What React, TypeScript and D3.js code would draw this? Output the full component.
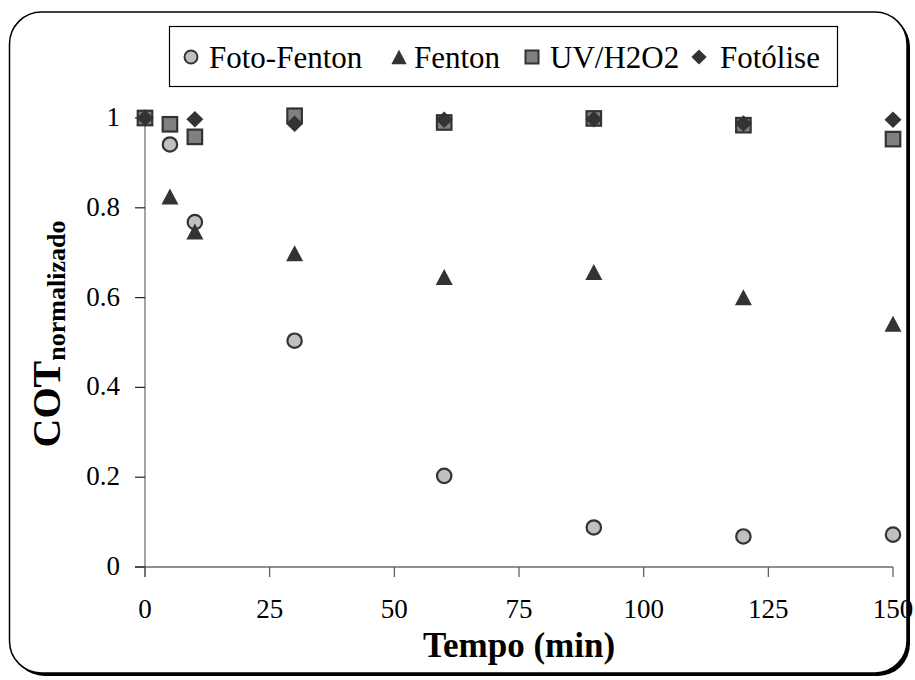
import React from "react";
import * as d3 from "d3";

const times = [0, 5, 10, 30, 60, 90, 120, 150];
const fotoFenton = [1, 0.941, 0.768, 0.504, 0.203, 0.088, 0.068, 0.072];
const fenton = [1, 0.825, 0.747, 0.699, 0.646, 0.657, 0.601, 0.542];
const uvH2O2 = [1, 0.986, 0.958, 1.005, 0.99, 0.999, 0.984, 0.953];
const fotoliseTimes = [0, 10, 30, 60, 90, 120, 150];
const fotolise = [1, 0.997, 0.987, 0.996, 0.997, 0.988, 0.996];

const xTicks = [0, 25, 50, 75, 100, 125, 150];
const yTicks = [0, 0.2, 0.4, 0.6, 0.8, 1];
const yTickLabels = ["0", "0.2", "0.4", "0.6", "0.8", "1"];
const legendLabels = ["Foto-Fenton", "Fenton", "UV/H2O2", "Fotólise"];

const W = 915;
const H = 680;
const serif = "Liberation Serif";

const x = d3.scaleLinear().domain([0, 150]).range([145, 893]);
const y = d3.scaleLinear().domain([0, 1]).range([567, 118]);

const DARK = "#333333";

function Marker({ kind, cx, cy, s = 1 }: { kind: number; cx: number; cy: number; s?: number }) {
  if (kind === 0) {
    return <circle cx={cx} cy={cy} r={7.2 * s} fill="#c0c0c0" stroke={DARK} strokeWidth={2.2 * s} />;
  }
  if (kind === 1) {
    const w = 17 * s, h = 16 * s;
    return (
      <path
        d={`M${cx},${cy - h / 2} L${cx + w / 2},${cy + h / 2} L${cx - w / 2},${cy + h / 2} Z`}
        fill={DARK}
      />
    );
  }
  if (kind === 2) {
    const a = 14.5 * s;
    return <rect x={cx - a / 2} y={cy - a / 2} width={a} height={a} fill="#808080" stroke={DARK} strokeWidth={2.2 * s} />;
  }
  const w = 17 * s, h = 16.5 * s;
  return (
    <path
      d={`M${cx},${cy - h / 2} L${cx + w / 2},${cy} L${cx},${cy + h / 2} L${cx - w / 2},${cy} Z`}
      fill={DARK}
    />
  );
}

export default function App() {
  const series = [
    { kind: 0, t: times, v: fotoFenton },
    { kind: 1, t: times, v: fenton },
    { kind: 2, t: times, v: uvH2O2 },
    { kind: 3, t: fotoliseTimes, v: fotolise },
  ];
  const legendMarkerX = [191, 399, 532, 699];
  const legendTextX = [209, 414, 550, 720];
  const legendY = 57;

  const framePath = (ox: number, oy: number) => {
    const x0 = 9.5 + ox, y0 = 12 + oy, x1 = 907 + ox, y1 = 673 + oy, r = 32;
    return `M${x0 + r},${y0} H${x1 - r} A${r},${r} 0 0 1 ${x1},${y0 + r} V${y1 - r} A${r},${r} 0 0 1 ${x1 - r},${y1} H${x0 + r} A${r},${r} 0 0 1 ${x0},${y1 - r} V${y0 + r} A${r},${r} 0 0 1 ${x0 + r},${y0} Z`;
  };

  return (
    <svg
      width={W}
      height={H}
      style={{ position: "absolute", left: 0, top: 0, display: "block", background: "#fff", fontFamily: serif }}
    >
      <path d={framePath(3, 3)} fill="#000" />
      <path d={framePath(0, 0)} fill="#fff" stroke="#000" strokeWidth={1.5} />

      {/* axes */}
      <line x1={135} x2={x(150)} y1={y(0)} y2={y(0)} stroke="#222" strokeWidth={1.2} />
      <line x1={x(0)} x2={x(0)} y1={y(1)} y2={y(0) + 10} stroke="#666" strokeWidth={1.2} />
      {yTicks.map((t, i) => (
        <g key={"yt" + i}>
          <line x1={135} x2={x(0)} y1={y(t)} y2={y(t)} stroke="#222" strokeWidth={1.2} />
          <text x={120} y={y(t) + 8} textAnchor="end" fontSize={27} fill="#000" style={{ fontFamily: serif }}>
            {yTickLabels[i]}
          </text>
        </g>
      ))}
      {xTicks.map((t, i) => (
        <g key={"xt" + i}>
          <line x1={x(t)} x2={x(t)} y1={y(0)} y2={y(0) + 10} stroke="#555" strokeWidth={1.2} />
          <text x={x(t)} y={618} textAnchor="middle" fontSize={27} fill="#000" style={{ fontFamily: serif }}>
            {t}
          </text>
        </g>
      ))}

      {/* titles */}
      <text x={519} y={657} textAnchor="middle" fontSize={35} fontWeight="bold" fill="#000" style={{ fontFamily: serif }}>
        Tempo (min)
      </text>
      <text
        transform={`translate(60,${334}) rotate(-90)`}
        textAnchor="middle"
        fontWeight="bold"
        fill="#000"
        style={{ fontFamily: serif }}
      >
        <tspan fontSize={40}>COT</tspan>
        <tspan fontSize={26} dy={5}>normalizado</tspan>
      </text>

      {/* data */}
      {series.map((s, si) => (
        <g key={"s" + si}>
          {s.v.map((v, i) => (
            <Marker key={i} kind={s.kind} cx={x(s.t[i])} cy={y(v)} />
          ))}
        </g>
      ))}

      {/* legend */}
      <rect x={169.5} y={26.5} width={668} height={60} fill="#fff" stroke="#000" strokeWidth={1.2} />
      {legendLabels.map((l, i) => (
        <g key={"lg" + i}>
          <Marker kind={i} cx={legendMarkerX[i]} cy={legendY} s={0.9} />
          <text x={legendTextX[i]} y={legendY + 11} fontSize={31} fill="#000" style={{ fontFamily: serif }}>
            {l}
          </text>
        </g>
      ))}
    </svg>
  );
}
